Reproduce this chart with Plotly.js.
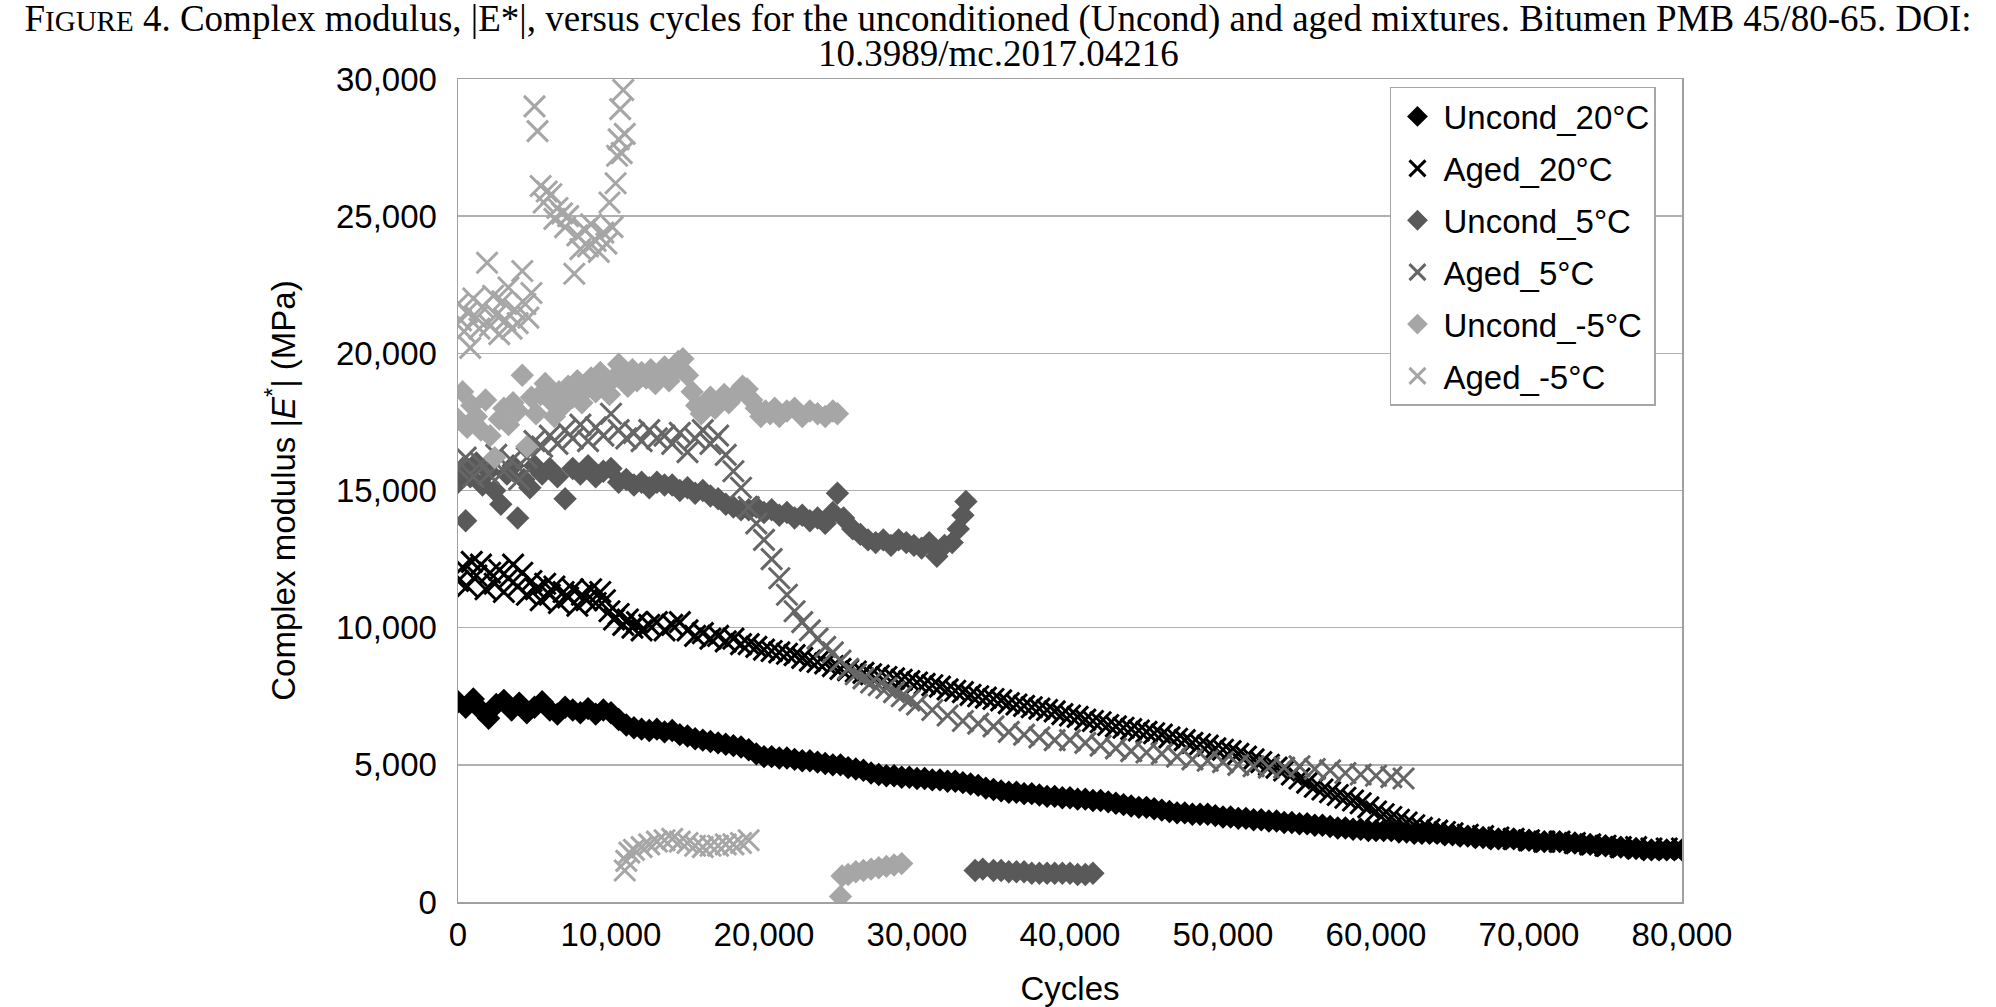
<!DOCTYPE html>
<html>
<head>
<meta charset="utf-8">
<script src="https://cdn.plot.ly/plotly-3.0.1.min.js"></script>
<style>html,body{margin:0;padding:0;background:#fff;}#chart{width:1996px;height:1007px;}</style>
</head>
<body>
<div id="chart"></div>
<script>
// ---- data (cycles, |E*| in MPa) ----
var seriesNames = ["Uncond_20°C", "Aged_20°C", "Uncond_5°C", "Aged_5°C", "Uncond_-5°C", "Aged_-5°C"];
var seriesColors = ["#000000", "#000000", "#595959", "#666666", "#a6a6a6", "#a6a6a6"];
var titleLine1 = "F<span style='font-size:29px'>IGURE</span> 4. Complex modulus, |E*|, versus cycles for the unconditioned (Uncond) and aged mixtures. Bitumen PMB 45/80-65. DOI:";
var titleLine2 = "10.3989/mc.2017.04216";

var uncond20X = [0,500,1000,1500,2000,2500,3000,3500,4000,4500,5000,5500,6000,6500,7000,7500,8000,8500,9000,9500,10000,10500,11000,11500,12000,12500,13000,13500,14000,14500,15000,15500,16000,16500,17000,17500,18000,18500,19000,19500,20000,20500,21000,21500,22000,22500,23000,23500,24000,24500,25000,25500,26000,26500,27000,27500,28000,28500,29000,29500,30000,30500,31000,31500,32000,32500,33000,33500,34000,34500,35000,35500,36000,36500,37000,37500,38000,38500,39000,39500,40000,40500,41000,41500,42000,42500,43000,43500,44000,44500,45000,45500,46000,46500,47000,47500,48000,48500,49000,49500,50000,50500,51000,51500,52000,52500,53000,53500,54000,54500,55000,55500,56000,56500,57000,57500,58000,58500,59000,59500,60000,60500,61000,61500,62000,62500,63000,63500,64000,64500,65000,65500,66000,66500,67000,67500,68000,68500,69000,69500,70000,70500,71000,71500,72000,72500,73000,73500,74000,74500,75000,75500,76000,76500,77000,77500,78000,78500,79000,79500,80000];
var uncond20Y = [7300,7100,7400,7000,6700,7200,7350,7000,7250,6900,7100,7300,7000,6850,7100,7000,6900,7050,6850,7000,6900,6650,6450,6350,6300,6250,6300,6200,6250,6100,6050,5950,5900,5850,5800,5750,5700,5650,5550,5400,5300,5300,5250,5250,5200,5150,5150,5100,5050,5000,5000,4900,4850,4800,4700,4650,4600,4600,4550,4550,4500,4500,4450,4450,4400,4400,4350,4300,4250,4150,4100,4050,4000,4000,3950,3950,3900,3850,3850,3800,3800,3750,3750,3700,3700,3650,3600,3550,3500,3450,3450,3400,3350,3300,3250,3250,3200,3200,3200,3150,3100,3100,3050,3050,3000,3000,2950,2950,2900,2900,2850,2850,2800,2800,2750,2700,2700,2650,2650,2600,2600,2600,2600,2550,2550,2500,2500,2500,2500,2450,2450,2400,2400,2350,2350,2300,2300,2300,2300,2250,2250,2200,2200,2200,2200,2150,2150,2100,2100,2050,2050,2000,2000,1950,1950,1900,1900,1900,1900,1900,1900];

var aged20X = [0,300,600,900,1200,1500,1800,2100,2400,2700,3000,3300,3600,3900,4200,4500,4800,5100,5400,5700,6000,6300,6600,6900,7200,7500,7800,8100,8400,8700,9000,9300,9600,9900,10200,10500,10800,11100,11400,11700,12000,12500,13000,13500,14000,14500,15000,15500,16000,16500,17000,17500,18000,18500,19000,19500,20000,20500,21000,21500,22000,22500,23000,23500,24000,24500,25000,25500,26000,26500,27000,27500,28000,28500,29000,29500,30000,30500,31000,31500,32000,32500,33000,33500,34000,34500,35000,35500,36000,36500,37000,37500,38000,38500,39000,39500,40000,40500,41000,41500,42000,42500,43000,43500,44000,44500,45000,45500,46000,46500,47000,47500,48000,48500,49000,49500,50000,50500,51000,51500,52000,52500,53000,53500,54000,54500,55000,55500,56000,56500,57000,57500,58000,58500,59000,59500,60000,60500,61000,61500,62000,62500,63000,63500,64000,64500,65000,66000,67000,68000,69000,70000,71000,72000,73000,74000,75000,76000,77000,78000,79000,80000];
var aged20Y = [11700,12200,11500,12400,11900,12300,11400,12000,11600,12100,11300,11800,12300,11500,12000,11200,11700,11400,11000,11600,11200,11500,10900,11300,11100,11400,10800,11200,11000,11400,10900,11300,11000,10600,10300,10500,10100,10300,10000,10200,9900,10100,10200,9900,10100,10200,9900,9700,9800,9600,9700,9500,9600,9400,9400,9300,9200,9150,9100,9050,9000,8900,8800,8750,8700,8600,8500,8450,8400,8350,8300,8250,8200,8150,8100,8050,8000,7950,7900,7850,7750,7700,7650,7550,7500,7450,7400,7350,7250,7200,7150,7100,7050,7000,6950,6850,6800,6750,6650,6600,6550,6450,6400,6350,6300,6250,6200,6150,6100,6000,5950,5900,5800,5750,5700,5600,5550,5500,5400,5300,5200,5100,5000,4900,4800,4650,4500,4350,4200,4100,4000,3900,3800,3700,3600,3450,3300,3200,3100,3000,2900,2800,2700,2650,2600,2550,2500,2450,2400,2350,2300,2250,2200,2200,2150,2100,2050,2000,2000,1950,1950,1950];

var uncond5X = [0,300,500,800,1200,1600,2000,2400,2800,3200,3600,3900,4300,4700,5000,5500,6000,6500,7000,7500,8000,8500,9000,9500,10000,10500,11000,11500,12000,12500,13000,13500,14000,14500,15000,15500,16000,16500,17000,17500,18000,18500,19000,19500,20000,20500,21000,21500,22000,22500,23000,23500,24000,24500,24800,25200,25800,26300,26800,27300,27800,28300,28800,29300,29800,30300,30800,31300,31800,32300,32700,33000,33200,33800,34300,35000,35500,36000,36500,37000,37500,38000,38500,39000,39500,40000,40500,41000,41500];
var uncond5Y = [15300,15800,13900,15500,16000,15200,15700,15000,14500,15600,15900,14000,15400,15100,15900,15600,15800,15500,14700,15800,15600,15900,15500,15700,15800,15300,15400,15200,15300,15100,15300,15200,15200,15000,15100,14900,15000,14800,14700,14500,14400,14300,14300,14400,14200,14300,14100,14200,14000,14100,13900,14000,13800,14200,14900,14000,13600,13400,13200,13100,13200,13000,13200,13100,13000,12900,13100,12600,13000,13100,13600,14100,14600,1150,1200,1150,1150,1100,1100,1100,1050,1050,1050,1050,1050,1050,1000,1000,1050];

var aged5X = [0,500,1000,1500,2000,2500,3000,3500,4000,4500,5000,5500,6000,6500,7000,7500,8000,8500,9000,9500,10000,10500,11000,11500,12000,12500,13000,13500,14000,14500,15000,15500,16000,16500,17000,17500,18000,18500,19000,19500,20000,20500,21000,21500,22000,22500,23000,23500,24000,24500,25000,25500,26000,26500,27000,27500,28000,28500,29000,29500,30000,31000,32000,33000,34000,35000,36000,37000,38000,39000,40000,41000,42000,43000,44000,45000,46000,47000,48000,49000,50000,51000,52000,53000,54000,55000,56000,57000,58000,59000,60000,61000,61800];
var aged5Y = [15800,16200,15500,16000,15600,16300,15700,16100,15400,16200,16800,16600,17000,16700,17200,16900,17400,16800,17300,17000,17800,17200,16900,17100,16800,17200,16900,17000,16700,17100,16400,16900,17200,16700,17000,16300,15700,15100,14400,13800,13200,12500,11800,11200,10600,10200,9900,9600,9300,9100,8800,8500,8300,8150,8000,7900,7800,7650,7500,7350,7200,7000,6800,6600,6500,6400,6200,6100,6000,5900,5900,5800,5700,5600,5500,5450,5400,5300,5200,5150,5100,5000,4950,4900,4900,4950,4850,4800,4700,4650,4600,4550,4500];

var uncondM5X = [0,300,600,900,1200,1500,1800,2100,2400,2700,3000,3300,3600,3900,4200,4500,4800,5100,5400,5700,6000,6300,6600,6900,7200,7500,7800,8100,8400,8700,9000,9300,9600,9900,10200,10500,10800,11100,11400,11700,12000,12300,12600,12900,13200,13500,13800,14100,14400,14700,15000,15300,15600,15900,16200,16500,16800,17100,17400,17700,18000,18300,18600,18900,19200,19500,19800,20100,20400,20700,21000,21500,22000,22500,23000,23500,24000,24500,24800,25000,25100,25500,26000,26500,27000,27500,28000,28500,29000];
var uncondM5Y = [17600,18600,17300,18100,17700,17200,18300,17000,16200,17600,18000,17400,18200,17900,19200,16600,18400,17800,18500,18900,18300,17700,18600,18100,18800,18400,19000,18200,18700,19100,18600,19300,18900,18500,19100,19600,19200,18800,19400,19000,19300,19100,19400,18900,19200,19500,19000,19300,19700,19800,19200,18600,18100,17800,18200,18400,18000,18300,18500,18200,18400,18600,18800,18700,18300,18000,17700,17900,17800,18000,17700,17900,18000,17700,17900,17800,17700,17900,17800,200,950,1000,1100,1150,1200,1250,1300,1350,1400];

var agedM5X = [0,200,400,600,800,1000,1200,1400,1600,1900,2100,2300,2500,2700,2900,3100,3300,3500,3700,3900,4200,4400,4600,4800,5000,5200,5400,5600,5800,6100,6300,6500,6800,7000,7200,7600,7800,8000,8300,8500,8700,9000,9200,9500,9700,9900,10100,10300,10400,10500,10600,10700,10800,10900,10900,11000,11200,11500,12000,12500,13000,13500,14000,14500,15000,15500,16000,16500,17000,17500,18000,18500,19000];
var agedM5Y = [21800,21200,20800,21500,20200,22000,21300,20900,21700,23300,21000,22100,21400,20700,21900,21200,22400,20900,21600,21100,23000,21800,21300,22200,29000,28100,26100,25500,25900,25800,24900,25300,25100,24600,25000,22900,24300,23800,24500,23900,24700,24100,23700,24400,24000,25500,24600,26200,27200,27800,28900,27300,29600,28000,1150,1500,1800,1900,2000,2100,2200,2250,2300,2200,2150,2050,2000,2050,2050,2100,2100,2150,2250];

var xTickVals = [0,10000,20000,30000,40000,50000,60000,70000,80000];
var yTickVals = [0,5000,10000,15000,20000,25000,30000];

var xs = [uncond20X, aged20X, uncond5X, aged5X, uncondM5X, agedM5X];
var ys = [uncond20Y, aged20Y, uncond5Y, aged5Y, uncondM5Y, agedM5Y];
var isAged = [false, true, false, true, false, true];

var traces = seriesNames.map(function (name, i) {
  var m = isAged[i]
    ? {symbol: "x-thin-open", size: 21, color: seriesColors[i], line: {color: seriesColors[i], width: 3}}
    : {symbol: "diamond", size: 18, color: seriesColors[i], line: {width: 0}};
  return {
    type: "scatter", mode: "markers", name: name, legendgroup: "g" + i,
    x: xs[i], y: ys[i], marker: m, hoverinfo: "skip"
  };
});

var layout = {
  width: 1996, height: 1007,
  margin: {l: 458, r: 314, t: 79, b: 105, pad: 0},
  paper_bgcolor: "#ffffff", plot_bgcolor: "#ffffff",
  font: {family: "Liberation Sans, Arial, sans-serif", size: 33, color: "#000000"},
  title: {
    text: titleLine1,
    font: {family: "Liberation Serif, Times New Roman, serif", size: 37, color: "#000000"},
    x: 0.5, xref: "container", xanchor: "center",
    y: 0.995, yref: "container", yanchor: "top", pad: {t: 0, b: 0}
  },
  annotations: [{
    text: titleLine2, showarrow: false,
    font: {family: "Liberation Serif, Times New Roman, serif", size: 37, color: "#000000"},
    xref: "paper", x: 0.4412, xanchor: "center",
    yref: "paper", y: 1.0304, yanchor: "middle"
  }],
  xaxis: {
    range: [0, 80000], tickmode: "array", tickvals: xTickVals, tickformat: ",d",
    showgrid: false, zeroline: false, showline: true, mirror: true,
    linecolor: "#a0a0a0", linewidth: 1.5, ticks: "", ticklabelstandoff: 3,
    title: {text: "Cycles", standoff: 40, font: {size: 33}}
  },
  yaxis: {
    range: [0, 30000], tickmode: "array", tickvals: yTickVals, tickformat: ",d",
    showgrid: true, gridcolor: "#b0b0b0", gridwidth: 1.5, zeroline: false,
    showline: true, mirror: true, linecolor: "#a0a0a0", linewidth: 1.5,
    ticks: "", ticklabelstandoff: 13,
    title: {text: "Complex modulus |<i>E</i><sup>*</sup>| (MPa)", standoff: 30, font: {size: 33}}
  },
  showlegend: true,
  legend: {
    x: 0.7614, y: 0.9903, xanchor: "left", yanchor: "top",
    bgcolor: "#ffffff", bordercolor: "#a6a6a6", borderwidth: 1.5,
    font: {size: 33}, traceorder: "grouped", tracegroupgap: 6, itemwidth: 42
  }
};

Plotly.newPlot("chart", traces, layout, {staticPlot: true, displayModeBar: false});
</script>
</body>
</html>
